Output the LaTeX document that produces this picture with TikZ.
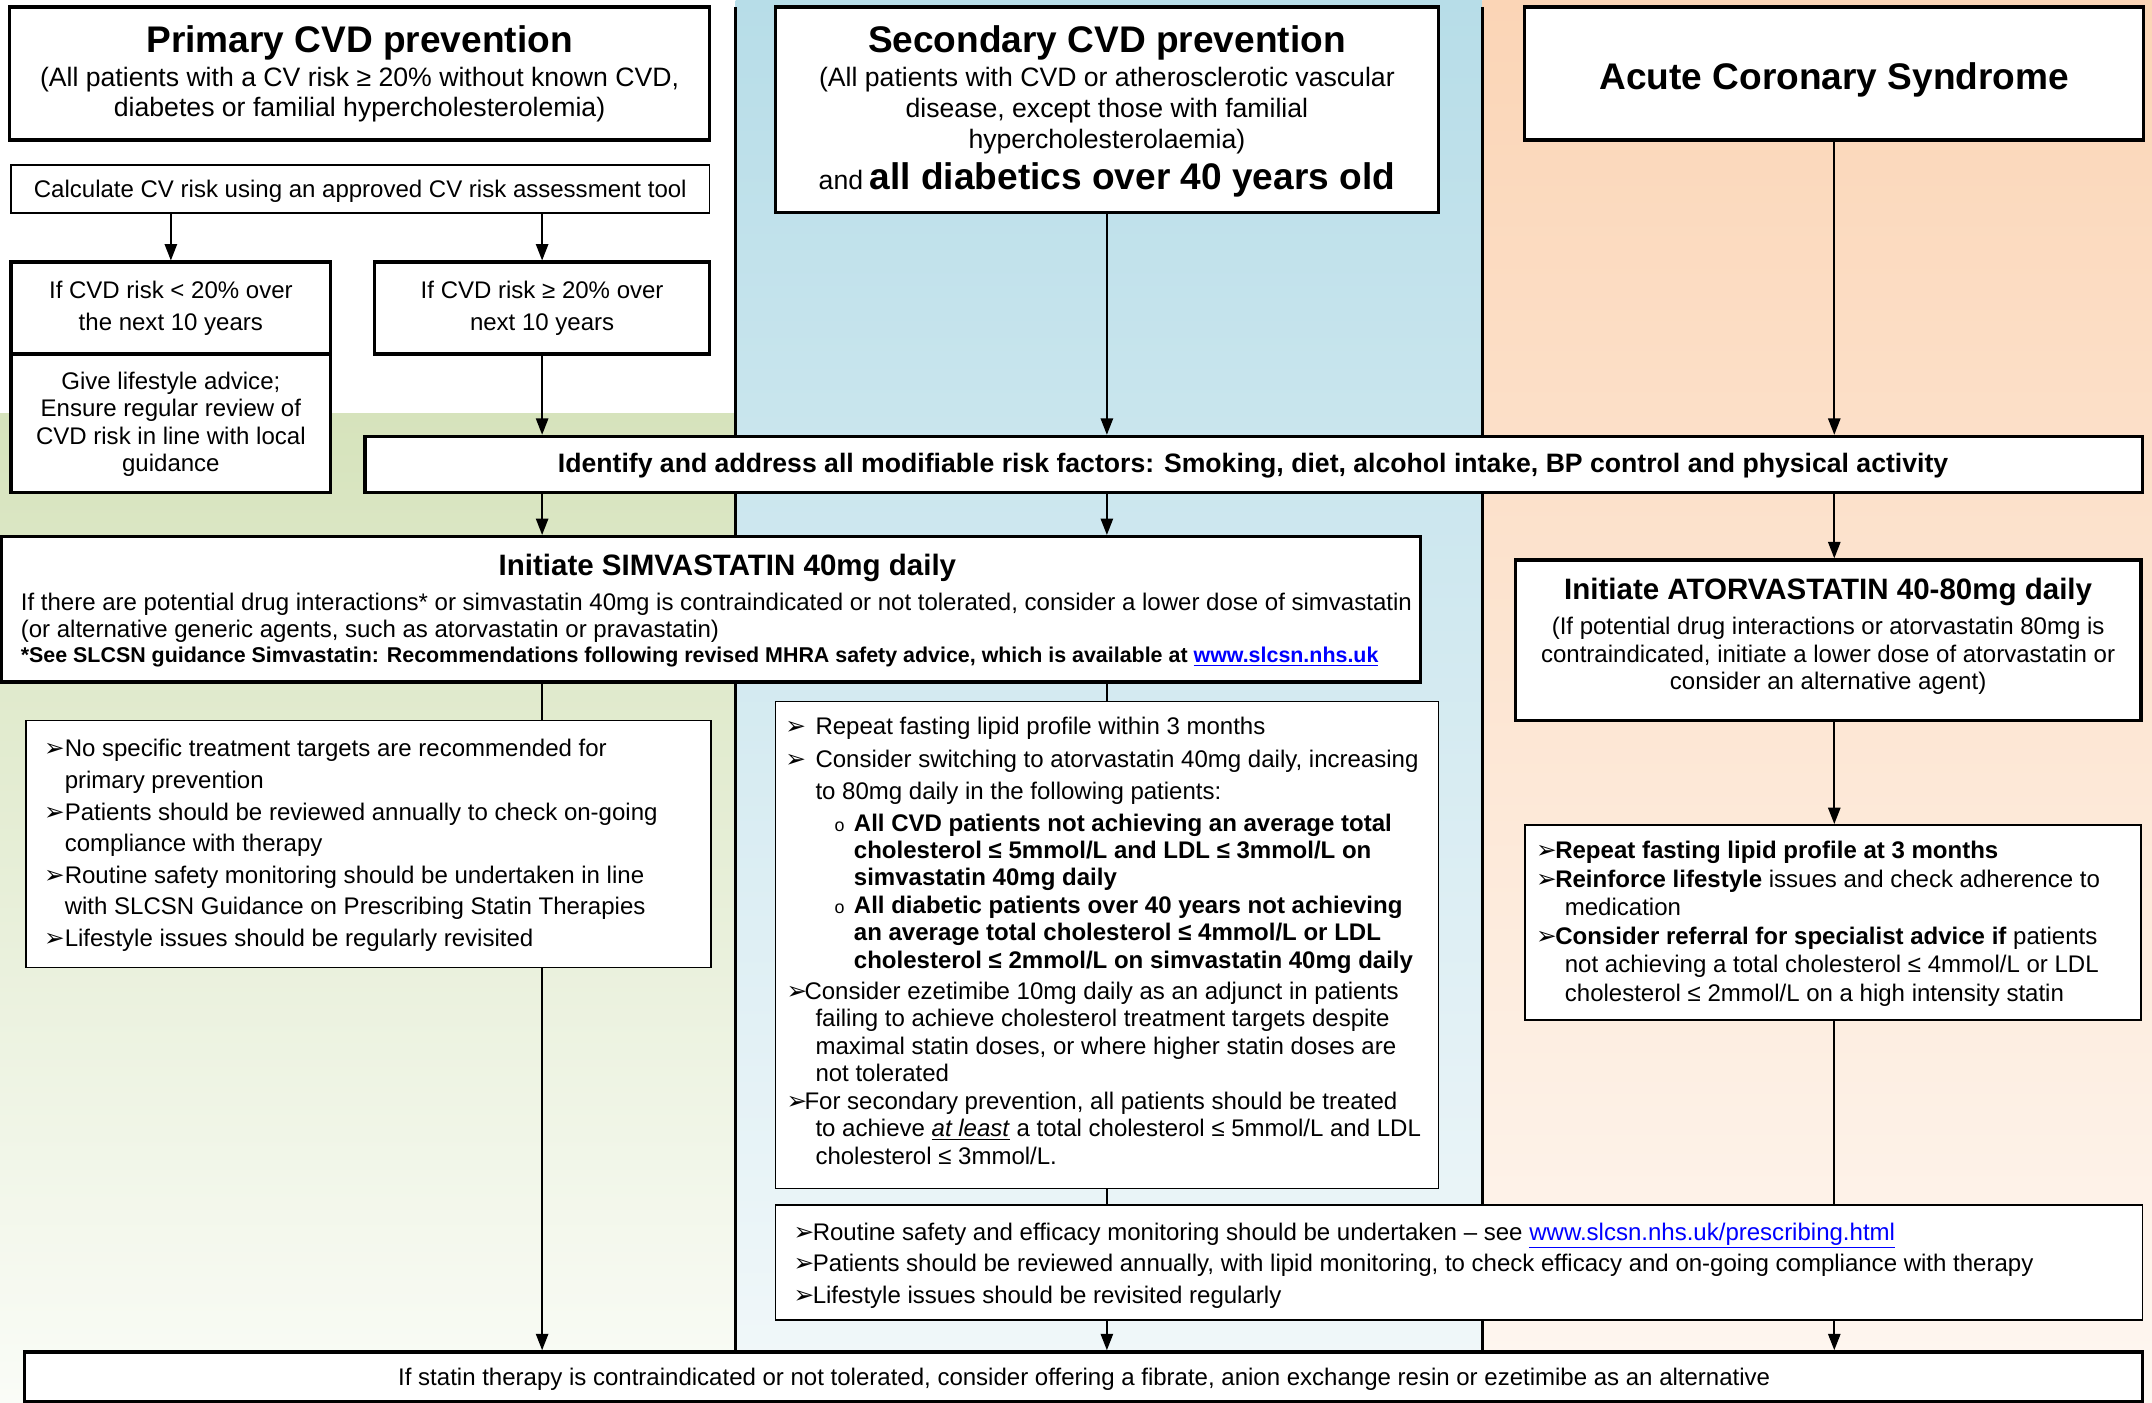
\documentclass[tikz,border=0pt]{standalone}
\usepackage{fontspec}
\setmainfont{Liberation Sans}
\newfontfamily\dvfont{DejaVu Sans}
\usetikzlibrary{arrows.meta,fit}
\definecolor{grT}{RGB}{214,227,188}
\definecolor{grB}{RGB}{250,252,247}
\definecolor{blT}{RGB}{183,221,232}
\definecolor{blB}{RGB}{242,248,250}
\definecolor{peT}{RGB}{251,213,182}
\definecolor{peB}{RGB}{254,247,241}
\definecolor{linkblue}{RGB}{0,0,255}
\newcommand{\barw}{{\dvfont\fontsize{18}{18}\selectfont ➢}}
\newcommand{\blt}[1]{\makebox[#1][l]{\barw}}
\newcommand{\hin}[1]{\hspace*{#1}}
\newcommand{\ob}{\makebox[14pt][l]{\fontsize{13}{13}\selectfont\mdseries o}}
\newcommand{\lnk}[1]{\textcolor{linkblue}{\underline{#1}}}
\pgfdeclarelayer{bg}
\pgfdeclarelayer{mid}
\pgfsetlayers{bg,mid,main}
\tikzset{
  thickbox/.style={draw=black, line width=2.4pt, fill=white, inner sep=0pt},
  thinbox/.style={draw=black, line width=1.2pt, fill=white, inner sep=0pt},
  tx/.style={inner sep=0pt, yshift=-2pt, font=\fontsize{17.5}{21}\selectfont},
  ttl/.style={inner sep=0pt, yshift=-2pt, font=\fontsize{27}{32}\selectfont\bfseries},
  arr/.style={line width=1.3pt, -{Triangle[length=12pt,width=9pt]}},
  ln/.style={line width=1.3pt},
  divl/.style={line width=2.2pt},
}
\begin{document}
\begin{tikzpicture}[x=1pt,y=-1pt]
\useasboundingbox (0,0) rectangle (1568,1022);
\begin{pgfonlayer}{bg}
\fill[white] (0,0) rectangle (1568,1022);
\shade[top color=grT, bottom color=grB] (0,301) rectangle (536,1022);
\shade[top color=blT, bottom color=blB] (536,0) rectangle (1080,1022);
\shade[top color=peT, bottom color=peB] (1080,0) rectangle (1568,1022);
\end{pgfonlayer}

\coordinate (colA) at (395,0);
\coordinate (colB) at (806.5,0);
\coordinate (colC) at (1336.5,0);
\coordinate (dv1) at (536,5);
\coordinate (dv2) at (1080,5);

% boxes
\node[thickbox, fit={(7,5)(517,102)}] (prim) {};
\node[thinbox, fit={(8,120)(517,155)}] (calc) {};
\node[thickbox, fit={(8,191)(241,258)}] (lt20) {};
\node[thickbox, fit={(8,258)(241,359)}] (life) {};
\node[thickbox, fit={(273,191)(517,258)}] (ge20) {};
\node[thickbox, fit={(565,5)(1048,155)}] (sec) {};
\node[thickbox, fit={(1111,5)(1562,102)}] (acs) {};
\node[thickbox, fit={(266,318)(1561,359)}] (ident) {};
\node[thickbox, fit={(1,391)(1035,497)}] (sim) {};
\node[thickbox, fit={(1104,408)(1560,525)}] (ator) {};
\node[thinbox, fit={(19,525)(518,705)}] (pbul) {};
\node[thinbox, fit={(565,511)(1048,866)}] (sbul) {};
\node[thinbox, fit={(1111,601)(1560,743)}] (abul) {};
\node[thinbox, fit={(565,878)(1561,962)}] (rout) {};
\node[thickbox, fit={(18,985)(1561,1021)}] (bot) {};

% texts
\node[ttl] (primT) at (262,29) {Primary CVD prevention};
\node[tx, align=center, font=\fontsize{19.4}{22}\selectfont] (primS) at (262,67) {(All patients with a CV risk ≥ 20\% without known CVD,\\diabetes or familial hypercholesterolemia)};
\node[tx] (calcT) at (calc.center) {Calculate CV risk using an approved CV risk assessment tool};
\node[tx, align=center, font=\fontsize{17.5}{23}\selectfont] (lt20T) at (124.5,222.5) {If CVD risk < 20\% over\\the next 10 years};
\node[tx, align=center, font=\fontsize{17.5}{20}\selectfont] (lifeT) at (124.5,307) {Give lifestyle advice;\\Ensure regular review of\\CVD risk in line with local\\guidance};
\node[tx, align=center, font=\fontsize{17.5}{23}\selectfont] (ge20T) at (395,222.5) {If CVD risk ≥ 20\% over\\next 10 years};
\node[ttl] (secT) at (806.5,29) {Secondary CVD prevention};
\node[tx, align=center, font=\fontsize{19.4}{22.5}\selectfont] (secS) at (806.5,78.5) {(All patients with CVD or atherosclerotic vascular\\disease, except those with familial\\hypercholesterolaemia)};
\node[tx] (secD) at (806.5,129) {{\fontsize{19.4}{22}\selectfont and} {\fontsize{27}{32}\selectfont\bfseries all diabetics over 40 years old}};
\node[ttl] (acsT) at (1336.5,56) {Acute Coronary Syndrome};
\node[tx, font=\fontsize{19.4}{23}\selectfont\bfseries] (identT) at (913,337) {Identify and address all modifiable risk factors: Smoking, diet, alcohol intake, BP control and physical activity};
\node[tx, font=\fontsize{21.5}{25}\selectfont\bfseries] (simT) at (530,412) {Initiate SIMVASTATIN 40mg daily};
\node[tx, align=left, anchor=west, font=\fontsize{17.5}{20}\selectfont] (simB) at (15,448) {If there are potential drug interactions* or simvastatin 40mg is contraindicated or not tolerated, consider a lower dose of simvastatin\\(or alternative generic agents, such as atorvastatin or pravastatin)};
\node[tx, anchor=west, font=\fontsize{15.6}{19}\selectfont\bfseries] (simC) at (15,477) {*See SLCSN guidance Simvastatin: Recommendations following revised MHRA safety advice, which is available at \lnk{www.slcsn.nhs.uk}};
\node[tx, font=\fontsize{21.5}{25}\selectfont\bfseries] (atorT) at (1332,429) {Initiate ATORVASTATIN 40-80mg daily};
\node[tx, align=center, font=\fontsize{17.5}{20}\selectfont] (atorB) at (1332,476) {(If potential drug interactions or atorvastatin 80mg is\\contraindicated, initiate a lower dose of atorvastatin or\\consider an alternative agent)};

\node[tx, align=left, anchor=west, font=\fontsize{17.5}{23}\selectfont] (pbulT) at (32,614) {\blt{15pt}No specific treatment targets are recommended for\\
\hin{15pt}primary prevention\\
\blt{15pt}Patients should be reviewed annually to check on-going\\
\hin{15pt}compliance with therapy\\
\blt{15pt}Routine safety monitoring should be undertaken in line\\
\hin{15pt}with SLCSN Guidance on Prescribing Statin Therapies\\
\blt{15pt}Lifestyle issues should be regularly revisited};

\node[tx, align=left, anchor=west, font=\fontsize{17.5}{23.5}\selectfont] (sbul1) at (572,552.5) {\blt{22pt}Repeat fasting lipid profile within 3 months\\
\blt{22pt}Consider switching to atorvastatin 40mg daily, increasing\\
\hin{22pt}to 80mg daily in the following patients:};
\node[tx, align=left, anchor=west, font=\fontsize{17.5}{20}\selectfont\bfseries] (sbul2) at (608,649) {\ob All CVD patients not achieving an average total\\
\hin{14pt}cholesterol ≤ 5mmol/L and LDL ≤ 3mmol/L on\\
\hin{14pt}simvastatin 40mg daily\\
\ob All diabetic patients over 40 years not achieving\\
\hin{14pt}an average total cholesterol ≤ 4mmol/L or LDL\\
\hin{14pt}cholesterol ≤ 2mmol/L on simvastatin 40mg daily};
\node[tx, align=left, anchor=west, font=\fontsize{17.5}{20}\selectfont] (sbul3) at (573,780) {\blt{13pt}Consider ezetimibe 10mg daily as an adjunct in patients\\
\hin{21pt}failing to achieve cholesterol treatment targets despite\\
\hin{21pt}maximal statin doses, or where higher statin doses are\\
\hin{21pt}not tolerated\\
\blt{13pt}For secondary prevention, all patients should be treated\\
\hin{21pt}to achieve \underline{\textit{at least}} a total cholesterol ≤ 5mmol/L and LDL\\
\hin{21pt}cholesterol ≤ 3mmol/L.};

\node[tx, align=left, anchor=west, font=\fontsize{17.5}{20.8}\selectfont] (abulT) at (1119,671) {\blt{14pt}\textbf{Repeat fasting lipid profile at 3 months}\\
\blt{14pt}\textbf{Reinforce lifestyle} issues and check adherence to\\
\hin{21pt}medication\\
\blt{14pt}\textbf{Consider referral for specialist advice if} patients\\
\hin{21pt}not achieving a total cholesterol ≤ 4mmol/L or LDL\\
\hin{21pt}cholesterol ≤ 2mmol/L on a high intensity statin};

\node[tx, align=left, anchor=west, font=\fontsize{17.5}{23}\selectfont] (routT) at (578,920) {\blt{14pt}Routine safety and efficacy monitoring should be undertaken – see \lnk{www.slcsn.nhs.uk/prescribing.html}\\
\blt{14pt}Patients should be reviewed annually, with lipid monitoring, to check efficacy and on-going compliance with therapy\\
\blt{14pt}Lifestyle issues should be revisited regularly};

\node[tx] (botT) at (790,1003) {If statin therapy is contraindicated or not tolerated, consider offering a fibrate, anion exchange resin or ezetimibe as an alternative};

% connectors and dividers
\begin{pgfonlayer}{mid}
\draw[divl] (dv1) -- (bot.north -| dv1);
\draw[divl] (dv2) -- (bot.north -| dv2);
\draw[arr] (calc.south -| lt20.north) -- (lt20.north);
\draw[arr] (calc.south -| ge20.north) -- (ge20.north);
\draw[arr] (ge20.south) -- (ident.north -| ge20.south);
\draw[arr] (sec.south) -- (ident.north -| sec.south);
\draw[arr] (acs.south) -- (ident.north -| acs.south);
\draw[arr] (ident.south -| colA) -- (sim.north -| colA);
\draw[arr] (ident.south -| colB) -- (sim.north -| colB);
\draw[arr] (ident.south -| colC) -- (ator.north -| colC);
\draw[arr] (sim.south -| colA) -- (bot.north -| colA);
\draw[ln] (sim.south -| colB) -- (sbul.north -| colB);
\draw[ln] (sbul.south -| colB) -- (rout.north -| colB);
\draw[arr] (rout.south -| colB) -- (bot.north -| colB);
\draw[arr] (ator.south -| colC) -- (abul.north -| colC);
\draw[ln] (abul.south -| colC) -- (rout.north -| colC);
\draw[arr] (rout.south -| colC) -- (bot.north -| colC);
\end{pgfonlayer}
\end{tikzpicture}
\end{document}
